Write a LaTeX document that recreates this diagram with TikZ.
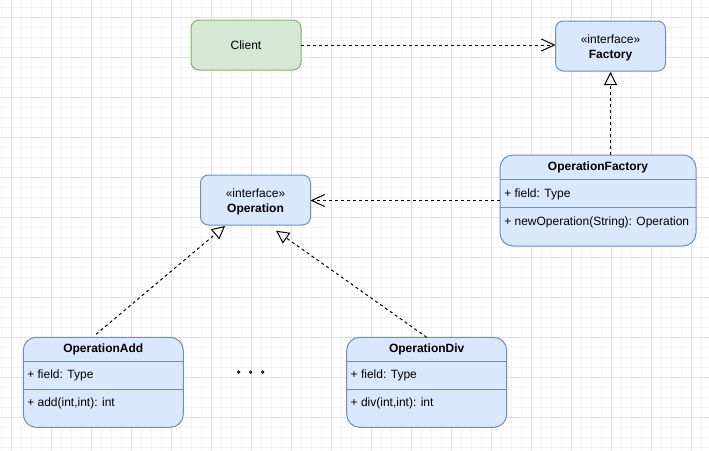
\documentclass[tikz,border=0pt]{standalone}
\usepackage{fontspec}
\setmainfont{Liberation Sans}
\newfontfamily\cjkfont[FakeBold=2]{Noto Sans CJK SC}
\usetikzlibrary{arrows.meta,calc}
\definecolor{blfill}{HTML}{DAE8FC}
\definecolor{blline}{HTML}{6C8EBF}
\definecolor{grfill}{HTML}{D5E8D4}
\definecolor{grline}{HTML}{82B366}
\definecolor{gridmaj}{HTML}{E0E0E0}
\definecolor{gridmin}{HTML}{F4F4F4}
\tikzset{
  every node/.style={font=\fontsize{12}{14}\selectfont, inner sep=0pt, outer sep=0pt},
  gridminor/.style={gridmin, line width=1pt},
  gridmajor/.style={gridmaj, line width=1pt},
  smallbox/.style={draw=blline, fill=blfill, line width=1pt, rounded corners=8pt, minimum width=110pt, minimum height=50pt},
  clientbox/.style={smallbox, draw=grline, fill=grfill},
  classbox/.style={draw=blline, fill=blfill, line width=1pt, rounded corners=13pt},
  divider/.style={draw=blline, line width=1pt},
  txt/.style={anchor=base},
  txtl/.style={anchor=base west},
  ttl/.style={anchor=base, font=\fontsize{12}{14}\selectfont\bfseries},
  depend/.style={draw=black, line width=1pt, dash pattern=on 3pt off 3pt, -{Straight Barb[length=13pt,width=12pt,line width=1pt]}},
  realize/.style={draw=black, line width=1pt, dash pattern=on 3pt off 3pt, -{Triangle[open,length=13pt,width=13pt,line width=1pt,fill=white]}},
}
\begin{document}
\begin{tikzpicture}[x=1pt,y=-1pt]
\useasboundingbox (0,0) rectangle (709,450);
\fill[white] (0,0) rectangle (709,450);
% grid
\foreach \x in {1,11,...,701} \draw[gridminor] (\x,0) -- (\x,450);
\foreach \y in {7,17,...,447} \draw[gridminor] (0,\y) -- (709,\y);
\foreach \x in {11,51,...,691} \draw[gridmajor] (\x,0) -- (\x,450);
\foreach \y in {17,57,...,417} \draw[gridmajor] (0,\y) -- (709,\y);

% top boxes
\node[clientbox] (client) at (246,45) {};
\node[txt] (clientt) at (246,49.3) {Client};
\node[smallbox] (factory) at (610.5,46) {};
\node[txt] (factoryst) at (610.5,43.5) {«interface»};
\node[ttl] (factoryt) at (610.5,58) {Factory};

\node[smallbox] (op) at (255.5,200) {};
\node[txt] (opst) at (255.5,197.5) {«interface»};
\node[ttl] (opt) at (255.5,212) {Operation};

% OperationFactory
\node[classbox, minimum width=196pt, minimum height=91pt] (opf) at (598,200.5) {};
\draw[divider] (opf.west |- 0,179.3) -- (opf.east |- 0,179.3);
\draw[divider] (opf.west |- 0,207.3) -- (opf.east |- 0,207.3);
\node[ttl] (opft) at (598,170) {OperationFactory};
\node[txtl] (opff) at (504.3,197) {+ field: Type};
\node[txtl] (opfm) at (504.3,225) {+ newOperation(String): Operation};

% OperationAdd
\node[classbox, minimum width=160pt, minimum height=90pt] (add) at (103.3,382.3) {};
\draw[divider] (add.west |- 0,361.3) -- (add.east |- 0,361.3);
\draw[divider] (add.west |- 0,389.3) -- (add.east |- 0,389.3);
\node[ttl] (addt) at (103.3,352) {OperationAdd};
\node[txtl] (addf) at (27.3,378.6) {+ field: Type};
\node[txtl] (addm) at (27.3,406.3) {+ add(int,int): int};

% OperationDiv
\node[classbox, minimum width=160pt, minimum height=90pt] (div) at (426.7,382.3) {};
\draw[divider] (div.west |- 0,361.3) -- (div.east |- 0,361.3);
\draw[divider] (div.west |- 0,389.3) -- (div.east |- 0,389.3);
\node[ttl] (divt) at (426.7,352) {OperationDiv};
\node[txtl] (divf) at (350.7,378.6) {+ field: Type};
\node[txtl] (divm) at (350.7,406.3) {+ div(int,int): int};

% ellipsis
\node[txtl, font=\fontsize{10}{12}\cjkfont] (dots) at (236.8,373) {。\hspace{2pt}。\hspace{2pt}。};

% connectors
\draw[depend] (client.east) -- (client.east -| factory.west);
\draw[realize] (opf.north -| factory.south) -- ($(factory.south)+(0,1)$);
\draw[depend] (opf.west) -- (opf.west -| op.east);
\draw[realize] ($(add.north)+(-7.3,-3)$) -- ($(op.south)+(-30.5,1)$);
\draw[realize] (div.north) -- ($(op.south)+(20.5,5.7)$);
\end{tikzpicture}
\end{document}
